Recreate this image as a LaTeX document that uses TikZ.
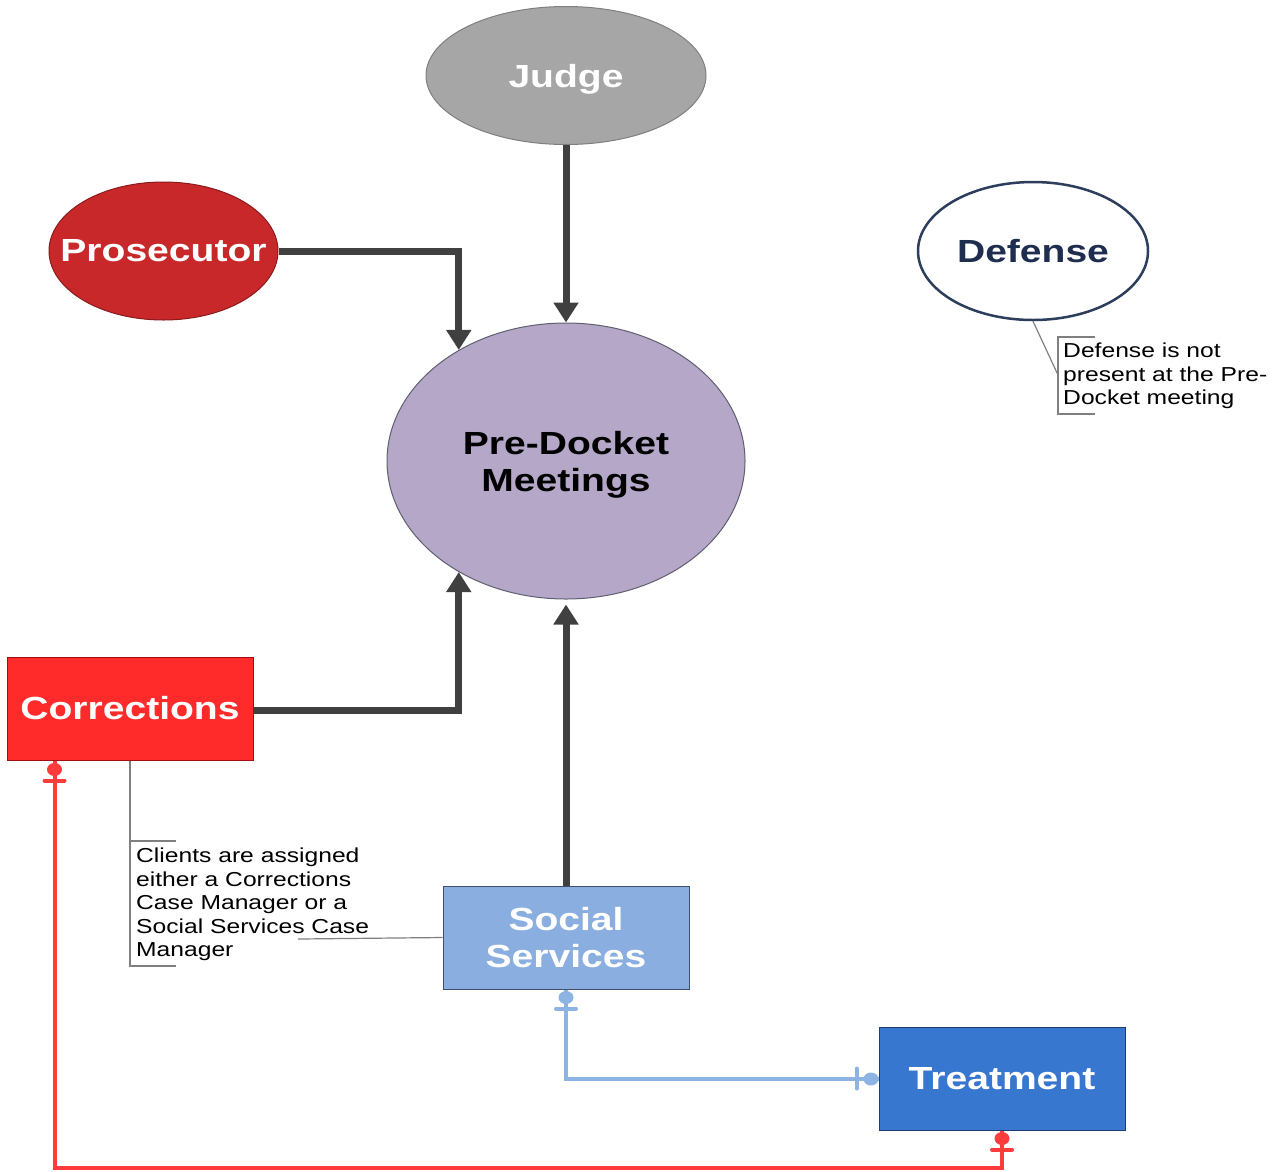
\documentclass[tikz,border=0pt]{standalone}
\usepackage{fontspec}
\setmainfont{Liberation Sans}[FakeStretch=1.22]
\usetikzlibrary{arrows.meta,calc,shapes.geometric}

\definecolor{judgefill}{HTML}{A6A6A6}
\definecolor{judgeline}{HTML}{7F7F7F}
\definecolor{prosfill}{HTML}{C8282A}
\definecolor{prosline}{HTML}{8B1A1A}
\definecolor{defline}{HTML}{2C3E5C}
\definecolor{deftext}{HTML}{1F2D4E}
\definecolor{meetfill}{HTML}{B4A7C8}
\definecolor{meetline}{HTML}{5F5F6F}
\definecolor{corrfill}{HTML}{FF2A2A}
\definecolor{corrline}{HTML}{A01010}
\definecolor{ssfill}{HTML}{8AAEE0}
\definecolor{ssline}{HTML}{3F4F6F}
\definecolor{trfill}{HTML}{3777CF}
\definecolor{trline}{HTML}{1F3F6F}
\definecolor{flowgray}{HTML}{404040}
\definecolor{linkblue}{HTML}{8DB3E2}
\definecolor{linkred}{HTML}{FF3B3B}
\definecolor{notegray}{HTML}{7F7F7F}

\tikzset{
  label/.style={font=\fontsize{32}{37}\selectfont\bfseries, align=center, inner sep=0pt},
  oval/.style={label, ellipse, line width=1pt},
  box/.style={label, rectangle, minimum width=246pt, minimum height=103pt, line width=1pt},
  flow/.style={draw=flowgray, line width=7pt,
    -{Triangle[length=20pt,width=24pt]}},
  linkline/.style={line width=4pt},
  noteline/.style={draw=notegray, line width=1.2pt},
  note/.style={font=\fontsize{20.2}{23.4}\selectfont, align=left, inner sep=0pt, anchor=north west}
}

\begin{document}
\begin{tikzpicture}[x=1pt,y=-1pt]
\useasboundingbox (0,0) rectangle (1281,1171);

% participants
\node[oval, fill=judgefill, draw=judgeline, text=white, text depth=0pt,
  minimum width=280pt, minimum height=138pt]
  (judge) at (566,75.5) {\makebox[0pt]{Judge}};
\node[oval, fill=prosfill, draw=prosline, text=white, minimum width=229pt, minimum height=138pt]
  (pros) at (163.5,251) {\makebox[0pt]{Prosecutor}};
\node[oval, fill=white, draw=defline, line width=2.5pt, text=deftext, minimum width=230pt, minimum height=138pt]
  (def) at (1033,251) {\makebox[0pt]{Defense}};
\node[oval, fill=meetfill, draw=meetline, text=black, text depth=0pt,
  minimum width=358pt, minimum height=276pt]
  (pdm) at (566,461) {Pre-Docket\\Meetings};

\node[box, fill=corrfill, draw=corrline, text=white] (corr) at (130,708.5) {Corrections};
\node[box, fill=ssfill, draw=ssline, text=white] (ss) at (566,937.5) {Social\\Services};
\node[box, fill=trfill, draw=trline, text=white] (tr) at (1002,1078.5) {Treatment};

% flows into the meeting
\draw[flow] (judge) -- (pdm);
\draw[flow] (pros.east) -| (pdm.134.2);
\draw[flow] ($(corr.east)+(0,1.5)$) -| (pdm.226.3);
\draw[flow, shorten >=5pt] (ss) -- (pdm);

% social services <-> treatment link
\draw[linkline, draw=linkblue] (ss.south) |- (tr.west);
\fill[linkblue] ($(ss.south)+(0,8)$) ellipse [x radius=7.5, y radius=6.5];
\draw[linkline, draw=linkblue, line cap=round] ($(ss.south)+(-10,19)$) -- ++(20,0);
\fill[linkblue] ($(tr.west)+(-7.5,0.5)$) ellipse [x radius=7.5, y radius=6.5];
\draw[linkline, draw=linkblue, line cap=round] ($(tr.west)+(-22,-10)$) -- ++(0,20);

% corrections <-> treatment link
\coordinate (cb) at ($(corr.south west)+(48,0)$);
\coordinate (low) at (0,1168);
\draw[linkline, draw=linkred] (cb) -- (cb |- low) -| (tr.south);
\fill[linkred] ($(cb)+(0,9)$) ellipse [x radius=7.5, y radius=6.5];
\draw[linkline, draw=linkred, line cap=round] ($(cb)+(-10,20)$) -- ++(20,0);
\fill[linkred] ($(tr.south)+(0,8)$) ellipse [x radius=7.5, y radius=6.5];
\draw[linkline, draw=linkred, line cap=round] ($(tr.south)+(-10,19)$) -- ++(20,0);

% annotations
\node[note] (defnote) at (1063,343) {Defense is not\\present at the Pre-\\Docket meeting};
\draw[noteline] (def.south) -- (1058,375);
\draw[noteline] (1095,337) -- (1058,337) -- (1058,414) -- (1095,414);

\node[note] (corrnote) at (136,848) {Clients are assigned\\either a Corrections\\Case Manager or a\\Social Services Case\\Manager};
\draw[noteline] (corr.south) -- (130,966) -- (176,966);
\draw[noteline] (130,841) -- (176,841);
\draw[noteline] (ss.west) -- (298,939);
\end{tikzpicture}
\end{document}
